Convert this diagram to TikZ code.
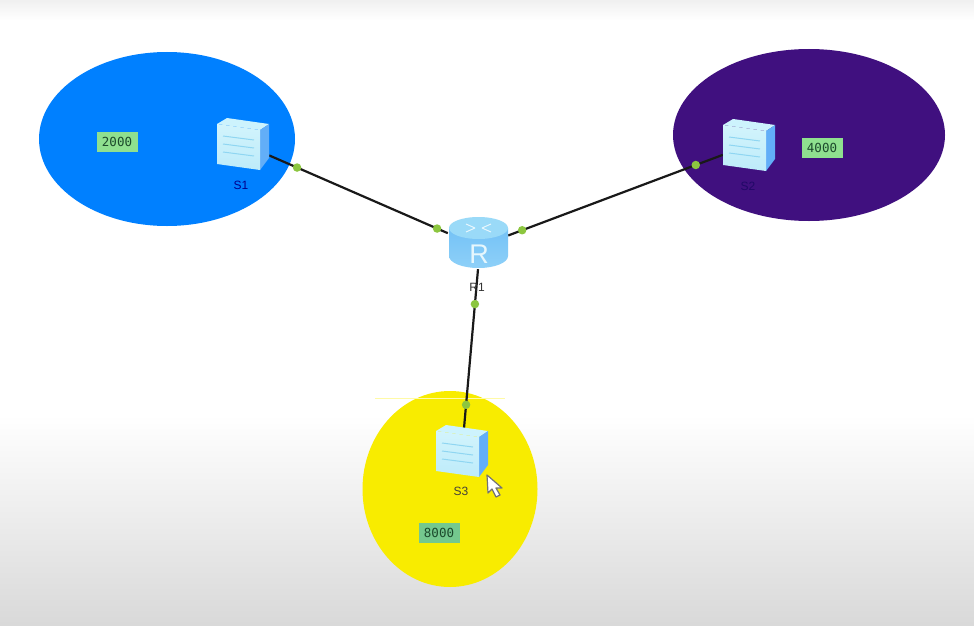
\documentclass[tikz,border=0pt]{standalone}
\usepackage{fontspec}
\setmainfont{Liberation Sans}
\setmonofont{DejaVu Sans Mono}
\usetikzlibrary{calc}
\definecolor{zoneblue}{HTML}{0080FF}
\definecolor{zonepurple}{HTML}{40107F}
\definecolor{zoneyellow}{HTML}{F8EC00}
\definecolor{tagbg}{HTML}{8FE08F}
\definecolor{tagbgb}{HTML}{74C88E}
\definecolor{tagtxt}{HTML}{1C4A2C}
\definecolor{dotgreen}{HTML}{8CC63F}
\definecolor{swfront}{HTML}{BDEBFA}
\definecolor{swfrontb}{HTML}{D2F4FC}
\definecolor{swtop}{HTML}{CDF3FD}
\definecolor{swside}{HTML}{62AEF8}
\definecolor{swline}{HTML}{8FD6F2}
\definecolor{rtop}{HTML}{9ADAF8}
\definecolor{rbodyt}{HTML}{74C2F6}
\definecolor{rbodyb}{HTML}{8ED0F8}
\tikzset{
  zone/.style={draw=none},
  devbox/.style={rectangle,inner sep=0pt,minimum width=52pt,minimum height=46pt},
  routerbox/.style={rectangle,inner sep=0pt,minimum width=60pt,minimum height=52pt},
  link/.style={draw=black!90,line width=2.2pt},
  linkdot/.style={circle,fill=dotgreen,inner sep=0pt,minimum size=8.5pt},
  tag/.style={text=tagtxt,inner sep=0pt,minimum width=41pt,minimum height=20pt,font=\ttfamily\fontsize{12.5}{14}\selectfont},
  devlabel/.style={inner sep=0pt,font=\fontsize{12}{14}\selectfont},
  switchicon/.pic={
    \fill[swtop] (-26,-20) -- (-16,-26) -- (26,-20) -- (17,-14) -- cycle;
    \fill[swside] (17,-14) -- (26,-20) -- (26,14) -- (17,26) -- cycle;
    \shade[top color=swfrontb,bottom color=swfront] (-26,-20) -- (17,-14) -- (17,26) -- (-26,20) -- cycle;
    \draw[swline,line width=1pt] (-20,-8) -- (11,-4) (-20,0) -- (11,4) (-20,8) -- (11,12);
  },
}
\begin{document}
\begin{tikzpicture}[x=1pt,y=-1pt]
\useasboundingbox (0,0) rectangle (974,626);
% backdrop
\fill[white] (0,0) rectangle (974,626);
\shade[top color=black!6,bottom color=white,draw=none] (0,0) rectangle (974,20);
\shade[top color=white,bottom color=black!15,draw=none] (0,415) rectangle (974,626);
% zones
\fill[zoneblue,zone] (167,139) ellipse [x radius=128,y radius=87];
\fill[zonepurple,zone] (809,135) ellipse [x radius=136,y radius=86];
\fill[zoneyellow,zone] (450,489) ellipse [x radius=87.5,y radius=98];
\draw[yellow!35!white,line width=1pt] (375,398) -- (505,398);
% anchors
\node[devbox] (S1) at (243,144) {};
\node[devbox] (S2) at (749,145) {};
\node[devbox] (S3) at (462,451) {};
\node[routerbox] (R1) at (478,243) {};
% links
\draw[link] (S1) -- node[linkdot,pos=.156] (d1) {} node[linkdot,pos=.94] (d2) {} (R1.162);
\draw[link] (R1.14) -- node[linkdot,pos=.065] (d3) {} node[linkdot,pos=.874] (d4) {} (S2);
\draw[link] (R1.south) -- node[linkdot,pos=.22] (d5) {} node[linkdot,pos=.855] (d6) {} (S3);
% icons
\pic at (S1) {switchicon};
\pic at (S2) {switchicon};
\pic at (S3) {switchicon};
% router
\shade[top color=rbodyt,bottom color=rbodyb]
  (449,228) -- (449,256) arc[start angle=180,end angle=0,x radius=29.5,y radius=12] -- (508,228) -- cycle;
\fill[rtop] (478.5,228) ellipse [x radius=29.5,y radius=11];
\draw[white!75!rtop,line width=1pt] (466,224) -- (475,228) (491,224) -- (482,228) (466,232) -- (475,228) (491,232) -- (482,228);
\node[text=white!90!cyan,inner sep=0pt,font=\fontsize{27}{28}\selectfont] (Rletter) at (479,254) {R};
% labels
\node[devlabel,text=blue!55!black] (lS1) at (241,185) {S1};
\node[devlabel,text=zonepurple!60!black!85!blue] (lS2) at (748,186) {S2};
\node[devlabel,text=black!85!yellow] (lS3) at (461,491) {S3};
\node[devlabel,text=black!80] (lR1) at (477,287) {R1};
\node[tag,fill=tagbg] (t2) at (117,142) {2000};
\node[tag,fill=tagbg] (t4) at (822,148) {4000};
\node[tag,fill=tagbgb] (t8) at (439,533) {8000};
% pointer
\draw[black!55,fill=white,line width=1.2pt,line join=round]
  (487,475) -- (488,493) -- (492,489) -- (496,497) -- (500,495) -- (496,488) -- (502,488) -- cycle;
\end{tikzpicture}
\end{document}
